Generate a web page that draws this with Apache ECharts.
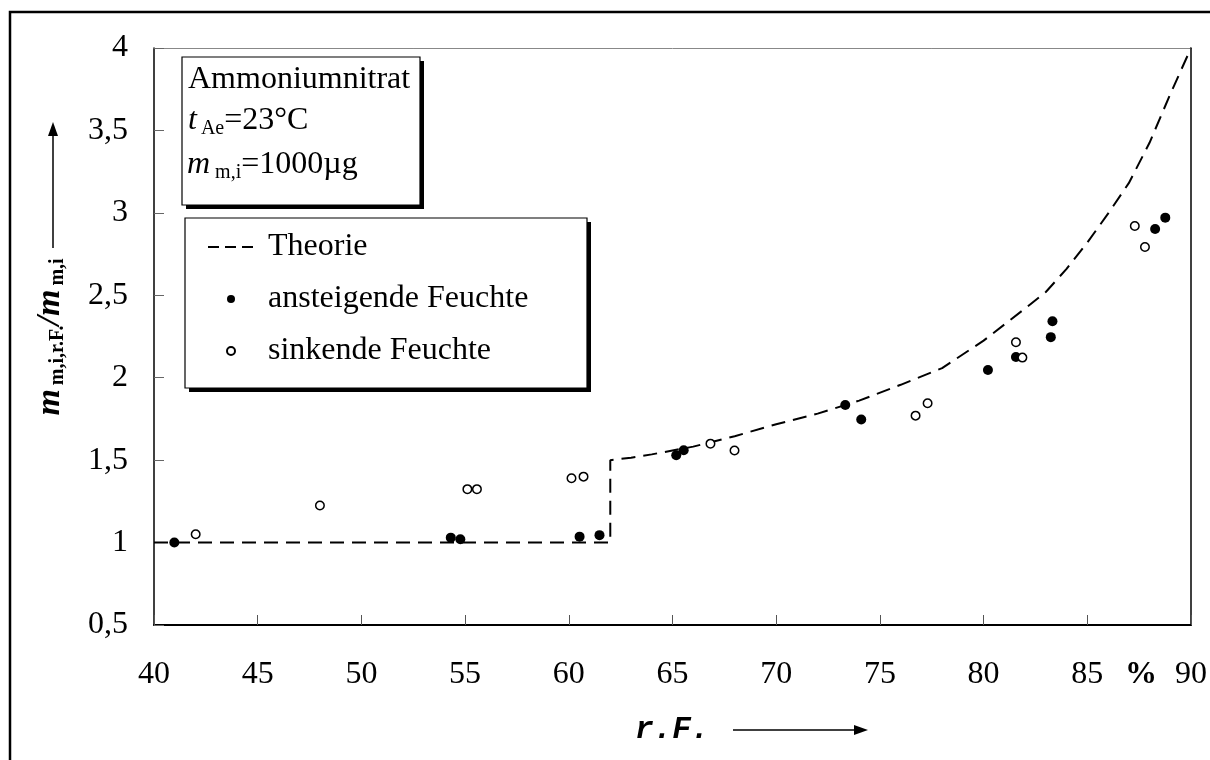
<!DOCTYPE html>
<html>
<head>
<meta charset="utf-8">
<script src="https://cdn.jsdelivr.net/npm/echarts@6/dist/echarts.min.js"></script>
<style>
html,body{margin:0;padding:0;background:#fff;}
#chart{width:1210px;height:760px;}
</style>
</head>
<body>
<div id="chart"></div>
<script>
// ---- data ----
const theoryRF    = [40, 62, 62, 63, 64, 66, 68, 70, 72, 74, 76, 78, 80, 82, 83, 84, 85, 86, 87, 88, 89, 90];
const theoryRatio = [1, 1, 1.5, 1.515, 1.535, 1.582, 1.645, 1.718, 1.782, 1.861, 1.957, 2.058, 2.225, 2.42, 2.52, 2.66, 2.82, 2.995, 3.18, 3.425, 3.72, 4.0];

const risingRF    = [40.98, 54.31, 54.77, 60.52, 61.48, 65.18, 65.54, 73.33, 74.10, 80.21, 81.56, 83.24, 83.32, 88.27, 88.76];
const risingRatio = [1.0, 1.03, 1.02, 1.036, 1.045, 1.53, 1.56, 1.835, 1.746, 2.047, 2.126, 2.246, 2.343, 2.902, 2.971];

const fallingRF    = [42.01, 48.0, 55.11, 55.57, 60.13, 60.71, 66.83, 67.99, 76.72, 77.30, 81.56, 81.87, 87.29, 87.78];
const fallingRatio = [1.05, 1.225, 1.324, 1.324, 1.39, 1.40, 1.60, 1.558, 1.77, 1.845, 2.215, 2.122, 2.92, 2.793];

const xTickLabels = ['40', '45', '50', '55', '60', '65', '70', '75', '80', '85', '90'];
const yTickLabels = ['0,5', '1', '1,5', '2', '2,5', '3', '3,5', '4'];

const seriesNames = ['Theorie', 'ansteigende Feuchte', 'sinkende Feuchte'];
const infoLines = ['Ammoniumnitrat', '23°C', '1000µg'];

// ---- chart ----
const zip = (a, b) => a.map((v, i) => [v, b[i]]);
const serif = '"Liberation Serif", "Times New Roman", serif';
const chart = echarts.init(document.getElementById('chart'), null, { renderer: 'canvas' });

const GRID = { left: 154, right: 18, top: 48, bottom: 135 };

function shadowBox(x, y, w, h) {
  return [
    { type: 'rect', shape: { x: x + 4, y: y + 4, width: w, height: h }, style: { fill: '#000' }, z: 1, silent: true },
    { type: 'rect', shape: { x: x, y: y, width: w, height: h }, style: { fill: '#fff', stroke: '#000', lineWidth: 1.2 }, z: 1, silent: true }
  ];
}

const option = {
  animation: false,
  backgroundColor: '#fff',
  grid: { left: GRID.left, right: GRID.right, top: GRID.top, bottom: GRID.bottom, containLabel: false },
  xAxis: [{
    type: 'value', min: 40, max: 90, interval: 5,
    axisLine: { show: true, lineStyle: { color: '#000', width: 2 } },
    axisTick: { show: true, inside: true, length: 10, lineStyle: { color: '#555', width: 1 } },
    splitLine: { show: false },
    axisLabel: {
      margin: 34, color: '#000', fontFamily: serif, fontSize: 32,
      formatter: v => xTickLabels[Math.round((v - 40) / 5)]
    }
  }, {
    type: 'value', min: 40, max: 90, position: 'top',
    axisLine: { show: true, onZero: false, lineStyle: { color: '#888', width: 1 } },
    axisTick: { show: false }, axisLabel: { show: false }, splitLine: { show: false }
  }],
  yAxis: [{
    type: 'value', min: 0.5, max: 4, interval: 0.5,
    axisLine: { show: true, lineStyle: { color: '#000', width: 1.5 } },
    axisTick: { show: true, inside: true, length: 10, lineStyle: { color: '#666', width: 1 } },
    splitLine: { show: false },
    axisLabel: {
      margin: 26, color: '#000', fontFamily: serif, fontSize: 32,
      formatter: v => yTickLabels[Math.round((v - 0.5) / 0.5)]
    }
  }, {
    type: 'value', min: 0.5, max: 4, position: 'right',
    axisLine: { show: true, onZero: false, lineStyle: { color: '#000', width: 1.5 } },
    axisTick: { show: false }, axisLabel: { show: false }, splitLine: { show: false }
  }],
  legend: {
    orient: 'vertical', left: 207, top: 229, z: 6,
    padding: 0,
    itemWidth: 46, itemHeight: 8, itemGap: 16,
    textStyle: { fontFamily: serif, fontSize: 32, color: '#000', lineHeight: 36, padding: [0, 0, 0, 9] },
    data: [
      { name: seriesNames[0], itemStyle: { opacity: 0 }, lineStyle: { type: [11, 6], width: 2, color: '#000' } },
      { name: seriesNames[1], itemStyle: { opacity: 1 } },
      { name: seriesNames[2], itemStyle: { opacity: 1 } }
    ]
  },
  series: [{
    name: seriesNames[0], type: 'line', data: zip(theoryRF, theoryRatio),
    symbol: 'none', smooth: false, clip: false,
    itemStyle: { color: '#000' },
    lineStyle: { color: '#000', width: 2, type: [14, 8] }, z: 2
  }, {
    name: seriesNames[1], type: 'scatter', data: zip(risingRF, risingRatio),
    symbol: 'circle', symbolSize: 10,
    itemStyle: { color: '#000', borderColor: '#000', borderWidth: 0, opacity: 1 }, z: 3
  }, {
    name: seriesNames[2], type: 'scatter', data: zip(fallingRF, fallingRatio),
    symbol: 'circle', symbolSize: 8.5,
    itemStyle: { color: '#fff', borderColor: '#000', borderWidth: 1.5, opacity: 1 }, z: 3
  }],
  graphic: [
    // outer frame
    { type: 'rect', shape: { x: 10, y: 12, width: 1210, height: 800 },
      style: { fill: null, stroke: '#000', lineWidth: 2.5 }, silent: true, z: 1 },
    // info box
    ...shadowBox(182, 57, 238, 148),
    { type: 'text', x: 188, y: 80, z: 2,
      style: { text: infoLines[0], font: '32px ' + serif, fill: '#000', verticalAlign: 'middle', align: 'left' } },
    { type: 'text', x: 188, y: 121, z: 2,
      style: {
        text: '{i|t}{s|Ae}{n|=' + infoLines[1] + '}', verticalAlign: 'middle', align: 'left',
        rich: {
          i: { fontFamily: serif, fontStyle: 'italic', fontSize: 32, lineHeight: 36, fill: '#000' },
          s: { fontFamily: serif, fontSize: 20, lineHeight: 18, verticalAlign: 'bottom', padding: [0, 0, 0, 4], fill: '#000' },
          n: { fontFamily: serif, fontSize: 32, lineHeight: 36, fill: '#000' }
        }
      } },
    { type: 'text', x: 187, y: 165, z: 2,
      style: {
        text: '{i|m}{s|m,i}{n|=' + infoLines[2] + '}', verticalAlign: 'middle', align: 'left',
        rich: {
          i: { fontFamily: serif, fontStyle: 'italic', fontSize: 32, lineHeight: 36, fill: '#000' },
          s: { fontFamily: serif, fontSize: 20, lineHeight: 18, verticalAlign: 'bottom', padding: [0, 0, 0, 5], fill: '#000' },
          n: { fontFamily: serif, fontSize: 32, lineHeight: 36, fill: '#000' }
        }
      } },
    // legend box
    ...shadowBox(185, 218, 402, 170),
    // y-axis title (rotated)
    { type: 'text', x: 50, y: 337, rotation: Math.PI / 2, z: 5,
      style: {
        text: '{b|m}{s|m,i,r.F.}{b|/m}{s|m,i}', align: 'center', verticalAlign: 'middle',
        rich: {
          b: { fontFamily: serif, fontStyle: 'italic', fontWeight: 'bold', fontSize: 34, lineHeight: 36, fill: '#000' },
          s: { fontFamily: serif, fontWeight: 'bold', fontSize: 20, lineHeight: 18, verticalAlign: 'bottom', padding: [0, 0, 0, 4], fill: '#000' }
        }
      } },
    // y-axis arrow
    { type: 'line', shape: { x1: 53, y1: 248, x2: 53, y2: 132 }, style: { stroke: '#000', lineWidth: 1.5 }, z: 5 },
    { type: 'polygon', shape: { points: [[53, 122], [48, 136], [58, 136]] }, style: { fill: '#000' }, z: 5 },
    // x-axis title
    { type: 'text', x: 635, y: 730, z: 5,
      style: { text: 'r.F.', font: 'italic bold 31px "Liberation Mono", "Courier New", monospace', fill: '#000', verticalAlign: 'middle', align: 'left' } },
    { type: 'line', shape: { x1: 733, y1: 730, x2: 856, y2: 730 }, style: { stroke: '#000', lineWidth: 1.5 }, z: 5 },
    { type: 'polygon', shape: { points: [[868, 730], [854, 725], [854, 735]] }, style: { fill: '#000' }, z: 5 },
    // percent unit
    { type: 'text', x: 1141, y: 675, z: 5,
      style: { text: '%', font: 'bold 32px ' + serif, fill: '#000', verticalAlign: 'middle', align: 'center' } }
  ]
};
chart.setOption(option);
</script>
</body>
</html>
